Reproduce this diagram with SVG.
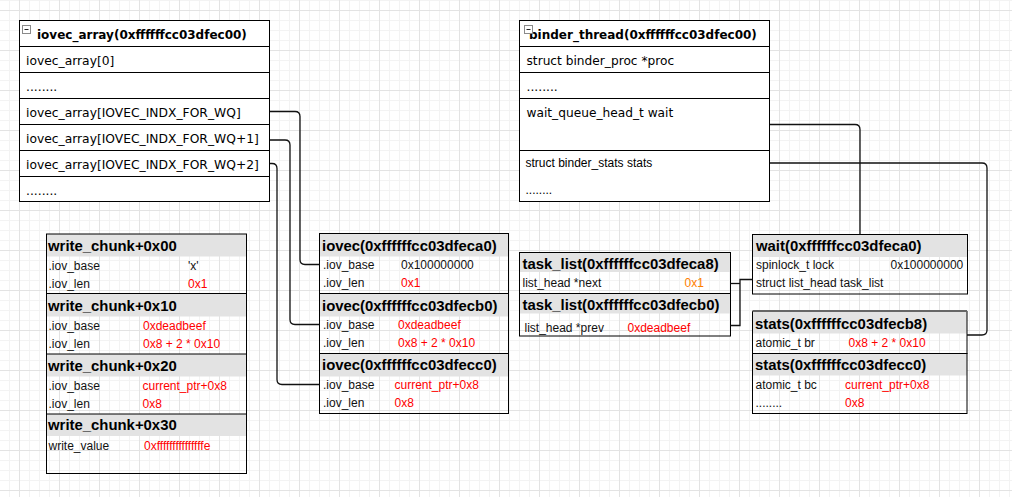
<svg xmlns="http://www.w3.org/2000/svg" width="1012" height="497" viewBox="0 0 1012 497">
<defs>
<pattern id="grid" x="19" y="10" width="40" height="40" patternUnits="userSpaceOnUse">
<path d="M10.5 0V40M20.5 0V40M30.5 0V40M0 10.5H40M0 20.5H40M0 30.5H40" stroke="#f3f3f3" stroke-width="1" fill="none"/>
<path d="M0.5 0V40M0 0.5H40" stroke="#e3e3e3" stroke-width="1" fill="none"/>
</pattern>
<style>
.box{fill:#fff;stroke:#000;stroke-width:1}
.sec{fill:none;stroke:#000;stroke-width:1}
.hdr{fill:#e3e3e3;stroke:none}
.div{stroke:#000;stroke-width:1}
.th{font-family:"DejaVu Sans",sans-serif;font-weight:bold;font-size:12px;fill:#000}
.tr{font-family:"DejaVu Sans",sans-serif;font-size:12.3px;fill:#000}
.ts{font-family:"Liberation Sans",Arial,sans-serif;font-size:12px;fill:#000}
.h{font-family:"Liberation Sans",Arial,sans-serif;font-weight:bold;font-size:14.9px;fill:#000}
.l{font-family:"Liberation Sans",Arial,sans-serif;font-size:12px;fill:#111}
.red{fill:#ff0000}
.org{fill:#ff8000}
.icon{fill:#fff;stroke:#8a8a8a;stroke-width:1}
.conn{fill:none;stroke:#111;stroke-width:1.3}
</style>
</defs>
<rect x="0" y="0" width="1012" height="497" fill="#fff"/>
<rect x="0" y="0" width="1012" height="497" fill="url(#grid)"/>

<g id="iovec_array">
<rect class="box" x="19.5" y="20.5" width="250" height="181"/>
<line class="div" x1="19.5" y1="46.5" x2="269.5" y2="46.5"/>
<line class="div" x1="19.5" y1="72.5" x2="269.5" y2="72.5"/>
<line class="div" x1="19.5" y1="98.5" x2="269.5" y2="98.5"/>
<line class="div" x1="19.5" y1="124.5" x2="269.5" y2="124.5"/>
<line class="div" x1="19.5" y1="150.5" x2="269.5" y2="150.5"/>
<line class="div" x1="19.5" y1="176.5" x2="269.5" y2="176.5"/>
<rect class="icon" x="22.5" y="25.5" width="8" height="8"/>
<line x1="24.5" y1="29.5" x2="28.5" y2="29.5" stroke="#222"/>
<text class="th" x="37" y="38.5">iovec_array(0xffffffcc03dfec00)</text>
<text class="tr" x="26" y="64.5">iovec_array[0]</text>
<text class="tr" x="26" y="91">........</text>
<text class="tr" x="26" y="117">iovec_array[IOVEC_INDX_FOR_WQ]</text>
<text class="tr" x="26" y="143">iovec_array[IOVEC_INDX_FOR_WQ+1]</text>
<text class="tr" x="26" y="169">iovec_array[IOVEC_INDX_FOR_WQ+2]</text>
<text class="tr" x="26" y="194.5">........</text>
</g>

<g id="binder_thread">
<rect class="box" x="519.5" y="20.5" width="250" height="181"/>
<line class="div" x1="519.5" y1="46.5" x2="769.5" y2="46.5"/>
<line class="div" x1="519.5" y1="72.5" x2="769.5" y2="72.5"/>
<line class="div" x1="519.5" y1="98.5" x2="769.5" y2="98.5"/>
<line class="div" x1="519.5" y1="150.5" x2="769.5" y2="150.5"/>
<text class="th" x="529" y="38.5">binder_thread(0xffffffcc03dfec00)</text>
<rect class="icon" x="524.5" y="25.5" width="8" height="8"/>
<line x1="526.5" y1="29.5" x2="530.5" y2="29.5" stroke="#222"/>
<text class="tr" x="526.5" y="64.5" style="font-size:12.2px">struct binder_proc *proc</text>
<text class="tr" x="526.5" y="91">........</text>
<text class="tr" x="526.5" y="117" style="font-size:12.2px">wait_queue_head_t wait</text>
<text class="ts" x="525.5" y="167">struct binder_stats stats</text>
<text class="ts" x="525.5" y="194">........</text>
</g>

<g id="write_chunk">
<rect class="hdr" x="46.5" y="234" width="200" height="22.5"/>
<rect class="hdr" x="46.5" y="293.5" width="200" height="23"/>
<rect class="hdr" x="46.5" y="354" width="200" height="22.5"/>
<rect class="hdr" x="46.5" y="414" width="200" height="22"/>
<rect class="sec" x="46.5" y="234" width="200" height="239.5"/>
<line class="div" x1="46.5" y1="293.5" x2="246.5" y2="293.5"/>
<line class="div" x1="46.5" y1="354" x2="246.5" y2="354"/>
<line class="div" x1="46.5" y1="414" x2="246.5" y2="414"/>
<text class="h" x="48" y="250.5">write_chunk+0x00</text>
<text class="l" x="48.5" y="269.5">.iov_base</text>
<text class="l" x="188" y="269.5">'x'</text>
<text class="l" x="48.5" y="287.5">.iov_len</text>
<text class="l red" x="188" y="287.5">0x1</text>
<text class="h" x="48" y="310.5">write_chunk+0x10</text>
<text class="l" x="48.5" y="330">.iov_base</text>
<text class="l red" x="143" y="330">0xdeadbeef</text>
<text class="l" x="48.5" y="348">.iov_len</text>
<text class="l red" x="143" y="348">0x8 + 2 * 0x10</text>
<text class="h" x="48" y="370.5">write_chunk+0x20</text>
<text class="l" x="48.5" y="390">.iov_base</text>
<text class="l red" x="142.5" y="390">current_ptr+0x8</text>
<text class="l" x="48.5" y="407.5">.iov_len</text>
<text class="l red" x="142.5" y="407.5">0x8</text>
<text class="h" x="48" y="430">write_chunk+0x30</text>
<text class="l" x="48.5" y="449.5">write_value</text>
<text class="l red" x="144" y="449.5">0xfffffffffffffffe</text>
</g>

<g id="iovec_a0">
<rect class="hdr" x="319.5" y="233.5" width="189" height="23"/>
<rect class="sec" x="319.5" y="233.5" width="189" height="60"/>
<text class="h" x="322" y="250.5">iovec(0xffffffcc03dfeca0)</text>
<text class="l" x="323" y="268.5">.iov_base</text>
<text class="l" x="401" y="268.5">0x100000000</text>
<text class="l" x="323" y="286.5">.iov_len</text>
<text class="l red" x="401" y="286.5">0x1</text>
</g>
<g id="iovec_b0">
<rect class="hdr" x="319.5" y="293.5" width="189" height="23"/>
<rect class="sec" x="319.5" y="293.5" width="189" height="60"/>
<text class="h" x="322" y="310.5">iovec(0xffffffcc03dfecb0)</text>
<text class="l" x="323" y="329">.iov_base</text>
<text class="l red" x="398" y="329">0xdeadbeef</text>
<text class="l" x="323" y="346.5">.iov_len</text>
<text class="l red" x="398" y="346.5">0x8 + 2 * 0x10</text>
</g>
<g id="iovec_c0">
<rect class="hdr" x="319.5" y="353.5" width="189" height="23"/>
<rect class="sec" x="319.5" y="353.5" width="189" height="60"/>
<text class="h" x="322" y="370">iovec(0xffffffcc03dfecc0)</text>
<text class="l" x="323" y="389">.iov_base</text>
<text class="l red" x="394.5" y="389">current_ptr+0x8</text>
<text class="l" x="323" y="406.5">.iov_len</text>
<text class="l red" x="394.5" y="406.5">0x8</text>
</g>

<g id="task_list_a8">
<rect class="hdr" x="519.5" y="252.5" width="211" height="19.5"/>
<rect class="sec" x="519.5" y="252.5" width="211" height="41"/>
<text class="h" x="522.5" y="268.5">task_list(0xffffffcc03dfeca8)</text>
<text class="l" x="522.5" y="286.5">list_head *next</text>
<text class="l org" x="684.5" y="286.5">0x1</text>
</g>
<g id="task_list_b0">
<rect class="hdr" x="519.5" y="293.5" width="211" height="20"/>
<rect class="sec" x="519.5" y="293.5" width="211" height="42.5"/>
<text class="h" x="522.5" y="310">task_list(0xffffffcc03dfecb0)</text>
<text class="l" x="524.5" y="331.5">list_head *prev</text>
<text class="l red" x="627.5" y="331.5">0xdeadbeef</text>
</g>

<g id="wait">
<rect class="hdr" x="752.5" y="234.5" width="215" height="22.5"/>
<rect class="sec" x="752.5" y="234.5" width="215" height="59.5"/>
<text class="h" x="756" y="250.5">wait(0xffffffcc03dfeca0)</text>
<text class="l" x="756" y="269">spinlock_t lock</text>
<text class="l" x="890.5" y="269">0x100000000</text>
<text class="l" x="756" y="286.5">struct list_head task_list</text>
</g>

<g id="stats_b8">
<rect class="hdr" x="752.5" y="311.5" width="214.5" height="22"/>
<rect class="sec" x="752.5" y="311.5" width="214.5" height="42"/>
<line x1="752.5" y1="311" x2="967" y2="311" stroke="#666" stroke-width="2"/>
<text class="h" x="755" y="329">stats(0xffffffcc03dfecb8)</text>
<text class="l" x="755.5" y="346.5">atomic_t br</text>
<text class="l red" x="848.5" y="346.5">0x8 + 2 * 0x10</text>
</g>
<g id="stats_c0">
<rect class="hdr" x="752.5" y="353.5" width="214.5" height="22"/>
<rect class="sec" x="752.5" y="353.5" width="214.5" height="60"/>
<text class="h" x="755" y="369.5">stats(0xffffffcc03dfecc0)</text>
<text class="l" x="755.5" y="388.5">atomic_t bc</text>
<text class="l red" x="845" y="388.5">current_ptr+0x8</text>
<text class="l" x="755.5" y="406.5">........</text>
<text class="l red" x="845" y="406.5">0x8</text>
</g>

<g id="connectors">
<path class="conn" d="M270 111.5H295Q300 111.5 300 116.5V259.5Q300 264.5 305 264.5H319.5"/>
<path class="conn" d="M270 140H285Q290 140 290 145V319.5Q290 324.5 295 324.5H319.5"/>
<path class="conn" d="M270 163.5H272Q277 163.5 277 168.5V379.5Q277 384.5 282 384.5H319.5"/>
<path class="conn" d="M770 124.5H855Q860 124.5 860 129.5V234.5"/>
<path class="conn" d="M770 163H982Q987 163 987 168V330Q987 335 982 335H967"/>
<path class="conn" d="M730.5 283.5H740"/>
<path class="conn" d="M730.5 325.5H740V279.5H752.5"/>
</g>
</svg>
